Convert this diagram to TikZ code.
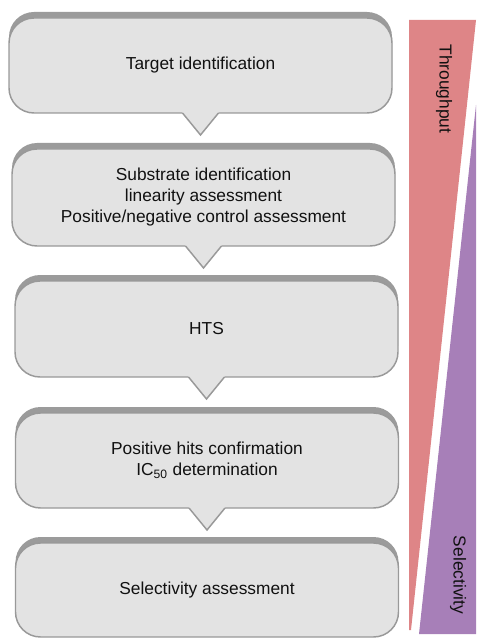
\documentclass[tikz,border=0pt]{standalone}
\usepackage{fontspec}
\setmainfont{Liberation Sans}
\usetikzlibrary{shadows,calc}
\definecolor{boxfill}{HTML}{E3E3E3}
\definecolor{boxline}{HTML}{999999}
\definecolor{shadowgray}{HTML}{9B9B9B}
\definecolor{tpred}{HTML}{DE8587}
\definecolor{selpurple}{HTML}{A77FB8}
\definecolor{txt}{HTML}{111111}
\begin{document}
\begin{tikzpicture}[x=0.75pt,y=-0.75pt,
  stagebox/.style={rectangle, rounded corners=18.75pt, draw=boxline, line width=1.1pt,
    fill=boxfill, minimum width=287.25pt, align=center, text=txt, outer sep=0pt,
    font=\fontsize{13}{15.75}\selectfont, inner sep=0pt,
    general shadow={shadow yshift=4.5pt, fill=shadowgray}},
  pointer/.style={draw=boxline, line width=1.1pt, line join=miter},
  sidelabel/.style={rotate=-90, text=txt, font=\fontsize{13}{15.75}\selectfont, inner sep=0pt}]
\useasboundingbox (0,0) rectangle (476,638);

% side wedges
\fill[tpred] (409,20) -- (476,20) -- (411,630) -- (409,630) -- cycle;
\fill[selpurple] (476,105) -- (476,634) -- (419,634) -- cycle;
\node[sidelabel] (tp) at (444,89) {Throughput};
\node[sidelabel] (sel) at (458,575) {Selectivity};

% stage boxes
\node[stagebox, minimum height=71.25pt] (b1) at (200.5,65.5) {Target identification};
\node[stagebox, minimum height=72.75pt] (b2) at (203.5,197.5) {Substrate identification\\linearity assessment\\Positive/negative control assessment};
\node[stagebox, minimum height=72pt] (b3) at (206.5,329) {HTS};
\node[stagebox, minimum height=71.25pt] (b4) at (207,460.5) {Positive hits confirmation\\IC\textsubscript{50} determination};
\node[stagebox, minimum height=70.5pt] (b5) at (207,590) {Selectivity assessment};

% callout pointers
\foreach \n in {b1,b2,b3,b4} {
  \fill[boxfill] ($(\n.south)+(-18.5,-1.2)$) -- ($(\n.south)+(18.5,-1.2)$) -- ($(\n.south)+(0,22.5)$) -- cycle;
  \draw[pointer] ($(\n.south)+(-18,0)$) -- ($(\n.south)+(0,22)$) -- ($(\n.south)+(18,0)$);
}
\end{tikzpicture}
\end{document}
